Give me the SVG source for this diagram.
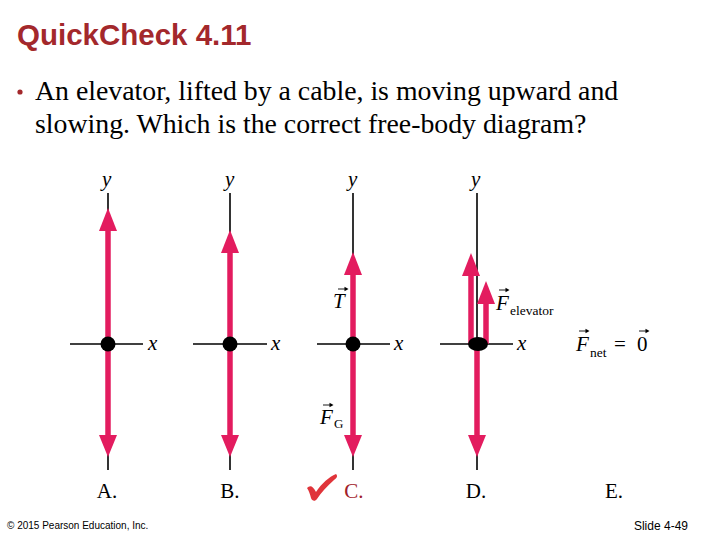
<svg xmlns="http://www.w3.org/2000/svg" width="720" height="540" viewBox="0 0 720 540">
<style>
.axis{stroke:#000;stroke-width:1.6;fill:none}
.shaft{stroke:#E31C5F;stroke-width:5.5;fill:none}
.head{fill:#E31C5F}
.lab{font-family:"Liberation Serif",serif;font-style:italic;font-size:21px;fill:#000}
.vec{stroke:#000;stroke-width:0.9;fill:none}
.vh{fill:#000}
.opt{font-family:"Liberation Serif",serif;font-size:21px;fill:#000;text-anchor:middle}
.body{font-family:"Liberation Serif",serif;font-size:27.8px;fill:#000}
</style>
<rect width="720" height="540" fill="#fff"/>
<text x="17" y="45" font-family="Liberation Sans,Arial,sans-serif" font-weight="bold" font-size="29.5" fill="#A3282C">QuickCheck 4.11</text>
<circle cx="20" cy="92" r="2.6" fill="#A3282C"/>
<text class="body" x="35" y="100">An elevator, lifted by a cable, is moving upward and</text>
<text class="body" x="35" y="133">slowing. Which is the correct free-body diagram?</text>

<g id="diagramA">
<line class="axis" x1="108" y1="193" x2="108" y2="470"/>
<line class="axis" x1="70" y1="344" x2="143" y2="344"/>
<line class="shaft" x1="108" y1="344" x2="108" y2="226"/>
<polygon class="head" points="108,208 117,231 99,231"/>
<line class="shaft" x1="108" y1="344" x2="108" y2="438"/>
<polygon class="head" points="108,457 117,435 99,435"/>
<circle cx="108" cy="344" r="7.5" fill="#000"/>
<text class="lab" x="102" y="186">y</text>
<text class="lab" x="148" y="350">x</text>
<text class="opt" x="107" y="498">A.</text>
</g>

<g id="diagramB">
<line class="axis" x1="230" y1="193" x2="230" y2="470"/>
<line class="axis" x1="193" y1="344" x2="267" y2="344"/>
<line class="shaft" x1="230" y1="344" x2="230" y2="249"/>
<polygon class="head" points="230,230 239,253 221,253"/>
<line class="shaft" x1="230" y1="344" x2="230" y2="438"/>
<polygon class="head" points="230,457 239,435 221,435"/>
<circle cx="230" cy="344" r="7.5" fill="#000"/>
<text class="lab" x="225" y="186">y</text>
<text class="lab" x="271" y="350">x</text>
<text class="opt" x="230" y="498">B.</text>
</g>

<g id="diagramC">
<line class="axis" x1="353" y1="193" x2="353" y2="470"/>
<line class="axis" x1="317" y1="344" x2="390" y2="344"/>
<line class="shaft" x1="353" y1="344" x2="353" y2="271"/>
<polygon class="head" points="353,252 362,275 344,275"/>
<line class="shaft" x1="353" y1="344" x2="353" y2="438"/>
<polygon class="head" points="353,457 362,435 344,435"/>
<circle cx="353" cy="344" r="7.5" fill="#000"/>
<text class="lab" x="348" y="186">y</text>
<text class="lab" x="394" y="350">x</text>
<text class="lab" x="333" y="308">T</text>
<line class="vec" x1="338" y1="289" x2="346" y2="289"/>
<polygon class="vh" points="348.5,289 344.5,286.8 344.5,291.2"/>
<text class="lab" x="320" y="424">F</text>
<text x="334" y="428" font-family="Liberation Serif,serif" font-size="13" fill="#000">G</text>
<line class="vec" x1="323" y1="405" x2="331" y2="405"/>
<polygon class="vh" points="333.5,405 329.5,402.8 329.5,407.2"/>
<path d="M307,488 C310,485 313,486 316,492 C322,483 329,477 336,474 C338,476 337,478 334,480 C327,486 321,493 317,499 C315,502 312,501 311,498 C310,494 309,491 307,488 Z" fill="#E0343A"/>
<text class="opt" x="354" y="498" style="fill:#A0202A">C.</text>
</g>

<g id="diagramD">
<line class="axis" x1="477" y1="193" x2="477" y2="470"/>
<line class="axis" x1="440" y1="344" x2="513" y2="344"/>
<line class="shaft" x1="471" y1="344" x2="471" y2="271"/>
<polygon class="head" points="471,253 480,276 462,276"/>
<line class="shaft" x1="486" y1="344" x2="486" y2="299"/>
<polygon class="head" points="486,281 495,304 477,304"/>
<line class="shaft" x1="477" y1="344" x2="477" y2="438"/>
<polygon class="head" points="477,457 486,435 468,435"/>
<ellipse cx="478" cy="344" rx="10" ry="7" fill="#000"/>
<text class="lab" x="471" y="186">y</text>
<text class="lab" x="517" y="350">x</text>
<text class="lab" x="496" y="310">F</text>
<text x="510" y="315" font-family="Liberation Serif,serif" font-size="13.5" fill="#000">elevator</text>
<line class="vec" x1="499" y1="290" x2="507" y2="290"/>
<polygon class="vh" points="509.5,290 505.5,287.8 505.5,292.2"/>
<text class="opt" x="476" y="498">D.</text>
</g>

<g id="diagramE">
<text class="lab" x="576" y="351">F</text>
<text x="590" y="357" font-family="Liberation Serif,serif" font-size="13.5" fill="#000">net</text>
<line class="vec" x1="579" y1="331" x2="587" y2="331"/>
<polygon class="vh" points="589.5,331 585.5,328.8 585.5,333.2"/>
<text x="614" y="351" font-family="Liberation Serif,serif" font-size="21" fill="#000">=</text>
<text x="637" y="351" font-family="Liberation Serif,serif" font-size="21" fill="#000">0</text>
<line class="vec" x1="639" y1="331" x2="647" y2="331"/>
<polygon class="vh" points="649.5,331 645.5,328.8 645.5,333.2"/>
<text class="opt" x="614" y="498">E.</text>
</g>

<text x="7" y="529" font-family="Liberation Sans,Arial,sans-serif" font-size="10" fill="#000">© 2015 Pearson Education, Inc.</text>
<text x="688" y="530" font-family="Liberation Sans,Arial,sans-serif" font-size="12" fill="#000" text-anchor="end">Slide 4-49</text>
</svg>
